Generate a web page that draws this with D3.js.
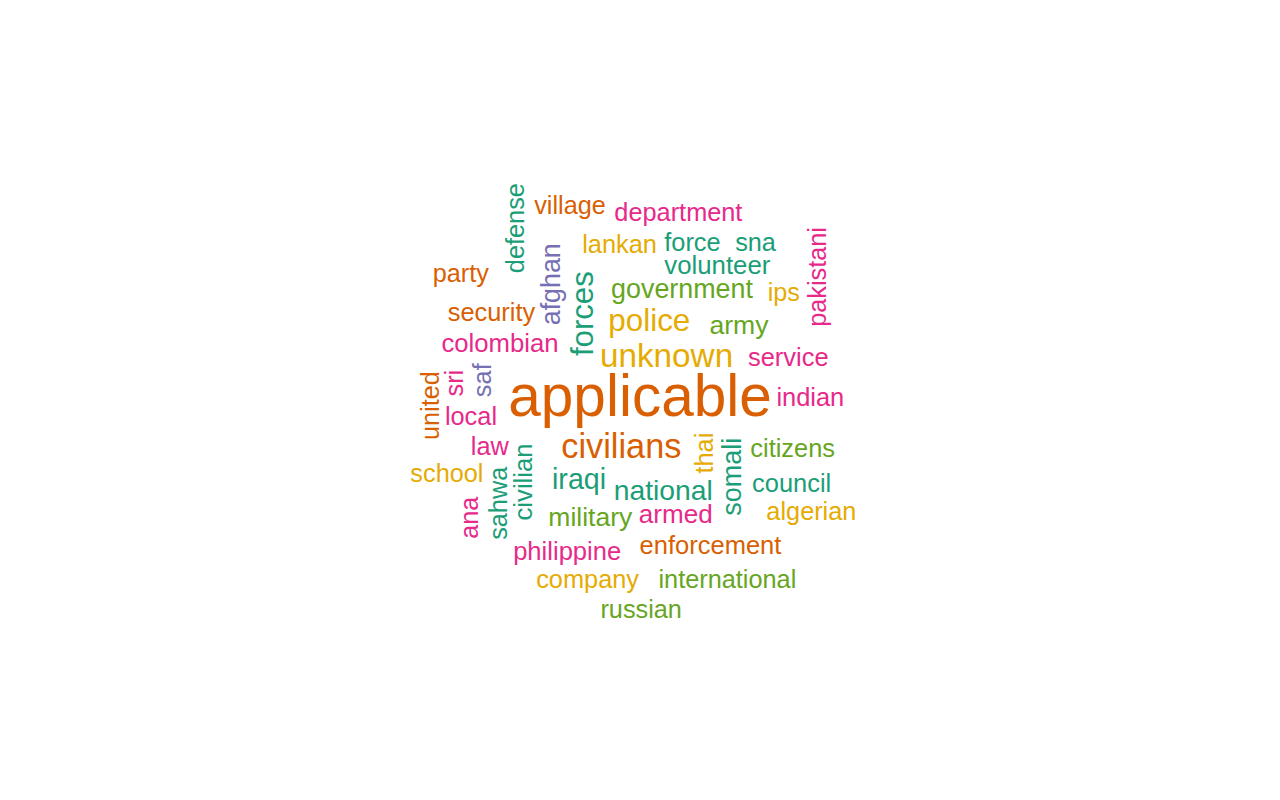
<!DOCTYPE html>
<html>
<head>
<meta charset="utf-8">
<script src="https://cdn.jsdelivr.net/npm/d3@7"></script>
<style>
  html, body { margin: 0; background: #fff; }
  svg { display: block; }
</style>
</head>
<body>
<div id="chart"></div>
<script>
const words = ['applicable', 'civilians', 'unknown', 'police', 'forces', 'iraqi', 'national',
  'somali', 'government', 'afghan', 'army', 'military', 'armed', 'volunteer', 'colombian',
  'civilian', 'philippine', 'enforcement', 'service', 'council', 'citizens', 'lankan', 'indian',
  'security', 'saf', 'company', 'local', 'law', 'force', 'department', 'international', 'sahwa',
  'pakistani', 'defense', 'school', 'algerian', 'village', 'russian', 'party', 'sna', 'ips',
  'thai', 'ana', 'sri', 'united'];
const counts = [5000, 1440, 1290, 1020, 980, 600, 560,
  370, 350, 340, 305, 295, 235, 190, 175,
  175, 160, 150, 145, 140, 135, 135, 135,
  130, 130, 128, 128, 125, 125, 122, 120, 120,
  120, 120, 118, 118, 115, 115, 112, 112, 110,
  110, 110, 108, 105];
// index into the Dark2 palette
const colorGroups = [1, 1, 5, 5, 0, 0, 0,
  0, 4, 2, 4, 4, 3, 0, 3,
  0, 3, 1, 3, 0, 4, 5, 3,
  1, 2, 5, 3, 3, 0, 3, 4, 0,
  3, 0, 5, 5, 1, 4, 1, 0, 5,
  5, 3, 3, 1];
// words drawn reading bottom to top
const verticalWords = ['forces', 'somali', 'afghan', 'civilian', 'saf', 'sahwa', 'pakistani',
  'defense', 'thai', 'ana', 'sri', 'united'];

const width = 1280;
const height = 800;
const fontFamily = '"Liberation Sans", Arial, sans-serif';
const pad = 2; // px around each word's ink

const svg = d3.select('#chart')
  .append('svg')
  .attr('width', width)
  .attr('height', height);

// square plot region (asp = 1, with 4% padding like base R)
const side = height / 1.08;
const x = d3.scaleLinear().domain([0, 1]).range([width / 2 - side / 2, width / 2 + side / 2]);
const y = d3.scaleLinear().domain([0, 1]).range([height / 2 + side / 2, height / 2 - side / 2]);

const fontSize = d3.scaleLinear().domain([0, d3.max(counts)]).range([24.5, 58.5]);
const color = d3.scaleOrdinal().domain(d3.range(8)).range(d3.schemeDark2);

const items = words.map((w, i) => ({
  text: w,
  count: counts[i],
  group: colorGroups[i],
  vertical: verticalWords.includes(w)
}));
const ordered = d3.sort(items, (a, b) => b.count - a.count);

// spiral placement, largest words first
const ctx = document.createElement('canvas').getContext('2d');
const boxes = [];
const thetaStep = 0.1;
const rStep = 0.05;

ordered.forEach((d, i) => {
  d.size = fontSize(d.count);
  ctx.font = `${d.size}px ${fontFamily}`;
  const m = ctx.measureText(d.text);
  const asc = m.actualBoundingBoxAscent;
  const desc = m.actualBoundingBoxDescent;
  d.shift = (asc - desc) / 2;

  let wid = (m.width + 2 * pad) / side;
  let ht = (asc + desc + 2 * pad) / side;
  if (d.vertical) [wid, ht] = [ht, wid];

  let r = 0;
  let theta = i * 2.39996;
  let x1 = 0.5, y1 = 0.5;
  while (true) {
    const b = [x1 - wid / 2, y1 - ht / 2, x1 + wid / 2, y1 + ht / 2];
    const hit = boxes.some(o => b[0] < o[2] && b[2] > o[0] && b[1] < o[3] && b[3] > o[1]);
    if (!hit || r > Math.SQRT1_2) {
      boxes.push(b);
      d.x = x1;
      d.y = y1;
      break;
    }
    theta += thetaStep;
    r += rStep * thetaStep / (2 * Math.PI);
    x1 = 0.5 + r * Math.cos(theta);
    y1 = 0.5 + r * Math.sin(theta);
  }
});

svg.append('g')
  .selectAll('text')
  .data(ordered)
  .join('text')
  .attr('transform', d => `translate(${x(d.x)},${y(d.y)})` + (d.vertical ? ' rotate(-90)' : ''))
  .attr('y', d => d.shift)
  .attr('text-anchor', 'middle')
  .attr('font-family', fontFamily)
  .attr('font-size', d => d.size)
  .attr('fill', d => color(d.group))
  .text(d => d.text);
</script>
</body>
</html>
